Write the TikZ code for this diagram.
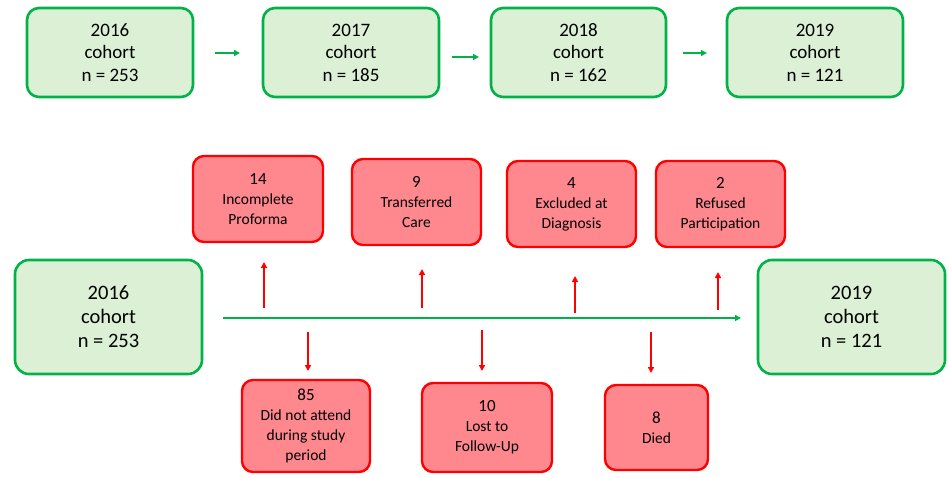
\documentclass[tikz,border=0pt]{standalone}
\usepackage{fontspec}
\setmainfont{Carlito}
\usetikzlibrary{arrows.meta}
\definecolor{gfill}{RGB}{220,240,214}
\definecolor{gline}{RGB}{0,178,72}
\definecolor{rfill}{RGB}{255,136,142}
\definecolor{rline}{RGB}{255,0,0}
\tikzset{
  cohorttop/.style={draw=gline, fill=gfill, line width=2.6pt, rounded corners=12pt,
    align=center, inner sep=0pt, font=\fontsize{19}{22.5}\selectfont},
  cohortbig/.style={draw=gline, fill=gfill, line width=2.6pt, rounded corners=14pt,
    align=center, inner sep=0pt, font=\fontsize{20.5}{24}\selectfont},
  lossbox/.style={draw=rline, fill=rfill, line width=2.4pt, rounded corners=11pt,
    align=center, inner sep=0pt, font=\fontsize{15.5}{20}\selectfont},
  garrow/.style={draw=gline, line width=2pt, -{Triangle[length=6pt,width=6pt]}},
  rarrow/.style={draw=rline, line width=1.8pt, -{Triangle[length=6pt,width=6pt]}},
  num/.style={}
}
\newcommand{\bignum}[1]{{\fontsize{17}{20}\selectfont #1}}
\begin{document}
\begin{tikzpicture}[x=1pt,y=-1pt]
\useasboundingbox (0,0) rectangle (949,477);

% top row
\node[cohorttop, minimum width=166pt, minimum height=89pt] (t1) at (110,52.5) {2016\\cohort\\n = 253};
\node[cohorttop, minimum width=176pt, minimum height=89pt] (t2) at (351,52.5) {2017\\cohort\\n = 185};
\node[cohorttop, minimum width=175pt, minimum height=89pt] (t3) at (578.5,52.5) {2018\\cohort\\n = 162};
\node[cohorttop, minimum width=176pt, minimum height=89pt] (t4) at (815,52.5) {2019\\cohort\\n = 121};

\coordinate (a1s) at (215,53); \coordinate (a1e) at (240,53);
\coordinate (a2s) at (452,57); \coordinate (a2e) at (479,57);
\coordinate (a3s) at (683,53); \coordinate (a3e) at (707,53);
\draw[garrow] (a1s) -- (a1e);
\draw[garrow] (a2s) -- (a2e);
\draw[garrow] (a3s) -- (a3e);

% bottom flow
\node[cohortbig, minimum width=187pt, minimum height=114pt] (b1) at (108.5,317) {2016\\cohort\\n = 253};
\node[cohortbig, minimum width=187pt, minimum height=114pt] (b2) at (851.5,317) {2019\\cohort\\n = 121};

\coordinate (ls) at (223,318); \coordinate (le) at (741,318);
\draw[garrow] (ls) -- (le);

% losses above
\node[lossbox, minimum width=130pt, minimum height=86pt] (r1) at (258,199) {\bignum{14}\\Incomplete\\Proforma};
\node[lossbox, minimum width=129pt, minimum height=86pt] (r2) at (416.5,202) {\bignum{9}\\Transferred\\Care};
\node[lossbox, minimum width=129pt, minimum height=86pt] (r3) at (571.5,204) {\bignum{4}\\Excluded at\\Diagnosis};
\node[lossbox, minimum width=129pt, minimum height=86pt] (r4) at (720.5,204) {\bignum{2}\\Refused\\Participation};

\coordinate (u1s) at (264,308); \coordinate (u1e) at (264,262);
\coordinate (u2s) at (422,308); \coordinate (u2e) at (422,269);
\coordinate (u3s) at (575,313); \coordinate (u3e) at (575,276);
\coordinate (u4s) at (718,310); \coordinate (u4e) at (718,272);
\draw[rarrow] (u1s) -- (u1e);
\draw[rarrow] (u2s) -- (u2e);
\draw[rarrow] (u3s) -- (u3e);
\draw[rarrow] (u4s) -- (u4e);

% losses below
\node[lossbox, minimum width=128pt, minimum height=92pt] (d1) at (306,426) {\bignum{85}\\Did not attend\\during study\\period};
\node[lossbox, minimum width=130pt, minimum height=89pt] (d2) at (487,427.5) {\bignum{10}\\Lost to\\Follow-Up};
\node[lossbox, minimum width=103pt, minimum height=85pt] (d3) at (656.5,427.5) {\bignum{8}\\Died};

\coordinate (w1s) at (308,332); \coordinate (w1e) at (308,371);
\coordinate (w2s) at (482,330); \coordinate (w2e) at (482,371);
\coordinate (w3s) at (651,332); \coordinate (w3e) at (651,373);
\draw[rarrow] (w1s) -- (w1e);
\draw[rarrow] (w2s) -- (w2e);
\draw[rarrow] (w3s) -- (w3e);
\end{tikzpicture}
\end{document}
